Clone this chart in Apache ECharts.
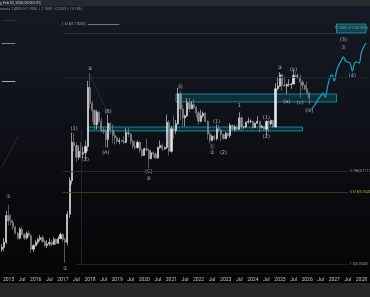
<!DOCTYPE html>
<html><head><meta charset="utf-8">
<script src="https://cdn.jsdelivr.net/npm/echarts@6/dist/echarts.min.js"></script>
<style>
html,body{margin:0;padding:0;background:#060606}
#c{width:370px;height:297px;background:linear-gradient(to bottom,#151a26 0px,#10131b 100px,#0a0b0f 190px,#050506 275px,#040404 283px,#262626 283px,#262626 297px)}
</style>
</head><body><div id="c"></div>
<script>
// ---- categories: monthly, 2014-10 .. 2028-03
const months = [];
for (let y = 2014, m = 10; !(y === 2028 && m === 4);) {
  months.push(y + '-' + String(m).padStart(2, '0'));
  m++; if (m > 12) { m = 1; y++; }
}
// ---- monthly candles (2014-10 .. 2026-02)
const candleStart = '2014-10';
const opens = [0.0075,0.0080,0.0095,0.0240,0.0200,0.0190,0.0160,0.0130,0.0110,0.0150,0.0125,0.0110,0.0130,0.0120,0.0075,0.0085,0.0095,0.0105,0.0112,0.0098,0.0085,0.0090,0.0095,0.0088,0.0105,0.0092,0.0108,0.0125,0.0105,0.0095,0.0250,0.0800,
0.30,0.27,0.18,0.22,0.20,0.21,0.26,2.00,1.15,0.90,0.55,0.85,0.62,0.46,0.44,0.33,0.58,0.46,0.38,0.35,0.31,0.32,0.31,0.30,0.42,0.40,0.31,0.26,0.25,0.30,0.23,0.19,0.24,0.23,0.17,0.21,0.20,0.175,0.25,0.27,0.24,0.25,0.60,0.22,0.48,0.45,0.57,1.60,0.95,0.70,0.75,1.18,0.95,1.10,1.00,0.83,0.62,0.75,0.82,0.62,0.40,0.32,0.37,0.34,0.48,0.46,0.39,0.34,0.41,0.38,0.54,0.47,0.51,0.47,0.70,0.51,0.51,0.60,0.62,0.62,0.50,0.58,0.62,0.50,0.52,0.47,0.62,0.57,0.64,0.51,1.90,2.08,3.10,2.15,2.10,2.20,2.20,2.25,3.00,2.80,2.85,2.40,2.15,1.90,1.65];
const closes = [0.0080,0.0095,0.0240,0.0200,0.0190,0.0160,0.0130,0.0110,0.0150,0.0125,0.0110,0.0130,0.0120,0.0075,0.0085,0.0095,0.0105,0.0112,0.0098,0.0085,0.0090,0.0095,0.0088,0.0105,0.0092,0.0108,0.0125,0.0105,0.0095,0.0250,0.0800,0.30,
0.27,0.18,0.22,0.20,0.21,0.26,2.00,1.15,0.90,0.55,0.85,0.62,0.46,0.44,0.33,0.58,0.46,0.38,0.35,0.31,0.32,0.31,0.30,0.42,0.40,0.31,0.26,0.25,0.30,0.23,0.19,0.24,0.23,0.17,0.21,0.20,0.175,0.25,0.27,0.24,0.25,0.60,0.22,0.48,0.45,0.57,1.60,0.95,0.70,0.75,1.18,0.95,1.10,1.00,0.83,0.62,0.75,0.82,0.62,0.40,0.32,0.37,0.34,0.48,0.46,0.39,0.34,0.41,0.38,0.54,0.47,0.51,0.47,0.70,0.51,0.51,0.60,0.62,0.62,0.50,0.58,0.62,0.50,0.52,0.47,0.62,0.57,0.64,0.51,1.90,2.08,3.10,2.15,2.10,2.20,2.20,2.25,3.00,2.80,2.85,2.40,2.15,1.90,1.65,1.40];
const lows = [0.0068,0.0070,0.0090,0.0170,0.0170,0.0146,0.0125,0.0105,0.0105,0.0120,0.0102,0.0105,0.0112,0.0066,0.0068,0.0082,0.0088,0.0098,0.0094,0.0080,0.0078,0.0084,0.0084,0.0088,0.0087,0.0090,0.0106,0.0096,0.0047,0.0085,0.0220,0.0700,
0.22,0.152,0.165,0.175,0.175,0.165,0.22,0.95,0.60,0.46,0.47,0.58,0.42,0.40,0.25,0.25,0.40,0.29,0.28,0.29,0.28,0.30,0.28,0.29,0.36,0.28,0.24,0.23,0.24,0.21,0.18,0.19,0.22,0.125,0.17,0.18,0.17,0.17,0.24,0.22,0.23,0.24,0.19,0.21,0.34,0.40,0.55,0.65,0.52,0.52,0.72,0.86,0.95,0.95,0.70,0.55,0.60,0.70,0.60,0.33,0.29,0.31,0.32,0.32,0.42,0.31,0.33,0.34,0.36,0.35,0.45,0.44,0.45,0.46,0.45,0.48,0.49,0.57,0.58,0.48,0.49,0.56,0.42,0.48,0.45,0.38,0.43,0.53,0.50,0.50,1.80,2.05,1.77,2.05,1.61,2.05,1.90,2.20,2.70,2.70,1.40,1.85,1.80,1.60,1.10];
const highs = [0.0090,0.0110,0.0280,0.0350,0.0250,0.0210,0.0170,0.0135,0.0160,0.0165,0.0130,0.0138,0.0145,0.0125,0.0090,0.0102,0.0112,0.0124,0.0122,0.0104,0.0102,0.0110,0.0104,0.0114,0.0110,0.0118,0.0133,0.0130,0.0112,0.0280,0.0900,0.42,
0.41,0.30,0.27,0.30,0.26,0.32,2.50,3.30,1.25,0.95,0.92,0.88,0.70,0.52,0.47,0.78,0.60,0.56,0.43,0.37,0.35,0.33,0.37,0.49,0.50,0.41,0.33,0.32,0.32,0.31,0.24,0.25,0.34,0.24,0.23,0.22,0.21,0.26,0.32,0.29,0.26,0.78,0.65,0.53,0.76,0.65,1.96,1.75,1.10,0.78,1.38,1.40,1.25,1.35,1.05,0.88,0.92,0.87,0.84,0.64,0.43,0.39,0.39,0.56,0.55,0.48,0.41,0.43,0.42,0.58,0.55,0.54,0.55,0.85,0.72,0.53,0.61,0.70,0.66,0.63,0.59,0.74,0.62,0.55,0.53,0.64,0.64,0.66,0.65,2.30,2.90,3.40,3.15,2.95,2.30,2.65,2.35,3.65,3.35,3.20,3.10,2.60,2.20,2.40,1.70];
// ---- projected path (teal) 2026-03 .. 2028-03
const projStart = '2026-03';
const projValues = [0.92,1.05,1.17,1.34,1.49,1.65,1.43,2.02,2.76,3.07,2.49,3.52,4.33,4.97,5.71,4.97,4.80,4.64,3.52,4.64,4.80,4.64,6.77,8.06,9.25];
// ---- zones [fromMonth, toMonth, topPrice, bottomPrice]
const zones = [['2021-03','2027-02',1.59,1.21],['2017-12','2025-11',0.509,0.444]];
const targetZone = ['2027-02','2028-03',17.8,13.1,'17.5000 (+1150.00%)'];
// ---- level lines [from, to, price, colour, label]
const levels = [
  ['2017-01','2028-03',13.1,'#1d4752',''],
  ['2017-01','2028-03',2.85,'#222836',''],
  ['2017-12','2019-02',17.5,'#8d929c','1.618(17.5000)'],
  ['2017-01','2027-07',0.1117,'#343438','0.786(0.1117)'],
  ['2017-01','2027-07',0.054,'#4a4322','0.618(0.0540)'],
  ['2017-07','2027-07',0.00448,'#2b2b2e','1.0(0.0045)'],
  ['2014-10','2015-04',9.25,'#9a9ea6',''],
  ['2014-10','2015-04',2.49,'#d6d6d6',''],
  ['2014-10','2015-04',20.5,'#323846','']
];
const vLines = [['2017-09',0.46,0.00448]];
const diagLines = [[['2014-10',0.128],['2015-05',0.36]],[['2018-01',3.1],['2018-09',0.80]]];
// ---- wave labels [month, price, text]
const waveLabels = [
  ['2015-01',0.0455,'①'],['2017-02',0.00378,'②'],['2017-06',0.475,'(1)'],['2017-11',0.163,'(2)'],
  ['2018-01',3.77,'③'],['2018-08',0.208,'(A)'],['2018-09',0.855,'(B)'],['2020-03',0.108,'(C)'],['2020-03',0.0846,'④'],
  ['2021-05',2.03,'Ⓑ'],['2022-07',0.255,'Ⓒ'],['2022-07',0.207,'②'],['2022-09',0.62,'(1)'],['2022-12',0.207,'(2)'],
  ['2023-07',1.05,'1'],['2024-07',0.69,'(1)'],['2024-07',0.37,'(2)'],
  ['2025-01',3.90,'③'],['2025-04',1.21,'(a)'],['2025-07',3.64,'(b)'],['2025-10',1.17,'(c)'],['2026-02',0.885,'(iii)'],
  ['2027-05',10.3,'(3)'],['2027-05',8.0,'3'],['2027-09',2.96,'(4)']
];

const iStart = months.indexOf(candleStart);
const candleData = months.map((m, i) => {
  const k = i - iStart;
  return (k >= 0 && k < opens.length) ? [opens[k], closes[k], lows[k], highs[k]] : '-';
});
const pStart = months.indexOf(projStart);
const projData = months.map((m, i) => {
  const k = i - pStart;
  return (k >= 0 && k < projValues.length) ? projValues[k] : null;
});

const markAreaData = zones.map(z => [
  {xAxis: z[0], yAxis: z[2], itemStyle: {color: 'rgba(0,150,170,0.22)', borderColor: '#1aa0b0', borderWidth: 0.8}},
  {xAxis: z[1], yAxis: z[3]}
]);
markAreaData.push([
  {xAxis: targetZone[0], yAxis: targetZone[2], itemStyle: {color: 'rgba(20,120,130,0.45)', borderColor: '#1aa0b0', borderWidth: 0.8},
   label: {show: true, position: 'inside', formatter: targetZone[4], color: '#4fb3bd', fontSize: 3.5}},
  {xAxis: targetZone[1], yAxis: targetZone[3]}
]);

const markLineData = levels.map(l => [
  {coord: [l[0], l[2]], lineStyle: {color: l[3], width: 0.8, type: 'solid'},
   label: {show: !!l[4], formatter: l[4], position: l[0] === '2017-12' ? 'start' : 'end', color: l[3] === '#4a4322' ? '#b3a248' : '#9a9ea6', fontSize: 3.5, distance: 2}},
  {coord: [l[1], l[2]]}
]).concat(vLines.map(v => [
  {coord: [v[0], v[1]], lineStyle: {color: '#2a2c31', width: 0.8, type: 'solid'}, label: {show: false}},
  {coord: [v[0], v[2]]}
])).concat(diagLines.map(d => [
  {coord: d[0], lineStyle: {color: '#3c4049', width: 0.6, type: 'solid'}, label: {show: false}},
  {coord: d[1]}
]));

const chart = echarts.init(document.getElementById('c'), null, {renderer: 'canvas'});
chart.setOption({
  backgroundColor: 'transparent',
  animation: false,
  textStyle: {fontFamily: 'Roboto, "DejaVu Sans", "Noto Sans CJK SC"'},
  grid: {left: 0, top: 0, width: 368.4, height: 273},
  xAxis: {
    type: 'category', data: months, boundaryGap: false,
    axisLine: {show: true, lineStyle: {color: '#141414', width: 1}},
    axisTick: {show: false},
    splitLine: {show: false},
    axisLabel: {
      color: '#c4c4c4', fontSize: 5, margin: 4, hideOverlap: false,
      interval: (i, v) => v.endsWith('-01') || v.endsWith('-07'),
      formatter: v => v.endsWith('-01') ? v.slice(0, 4) : 'Jul'
    }
  },
  yAxis: {type: 'log', logBase: 10, min: 0.0033, max: 40.8, show: false, splitLine: {show: false}},
  series: [
    {
      type: 'candlestick', data: candleData, barWidth: 1.7,
      itemStyle: {color: '#e8e8e8', color0: '#8e8e8e', borderColor: '#e8e8e8', borderColor0: '#8e8e8e', borderWidth: 0.6},
      markArea: {silent: true, data: markAreaData},
      markLine: {silent: true, symbol: 'none', animation: false, label: {show: false}, data: markLineData}
    },
    {
      type: 'line', data: projData, symbol: 'none', smooth: 0.35, connectNulls: false,
      lineStyle: {color: '#1ba6b8', width: 1.2}
    },
    {
      type: 'scatter', symbolSize: 0,
      data: waveLabels.map(w => ({value: [months.indexOf(w[0]), w[1]], name: w[2]})),
      label: {show: true, position: 'inside', formatter: p => p.name, color: '#cfd2d6', fontSize: 5,
              fontFamily: '"DejaVu Sans", "Noto Sans CJK SC"'}
    }
  ],
  graphic: [
    {type: 'rect', left: 0, top: 0, shape: {width: 370, height: 6}, style: {fill: '#28292d'}, z: 100},
    {type: 'text', left: 0, top: 1, style: {text: 'y, Feb 02, 2026 00:00 UTC', fill: '#d6d6d6', fontSize: 3.6, fontFamily: 'Roboto'}, z: 101},
    {type: 'text', left: 0, top: 8, style: {text: 'rsion ● 1.4000  H 1.7000  L 1.1000  −0.2500 (−15.15%)', fill: '#8f949c', fontSize: 3.4, fontFamily: 'Roboto'}, z: 101}
  ]
});
</script>
</body></html>
